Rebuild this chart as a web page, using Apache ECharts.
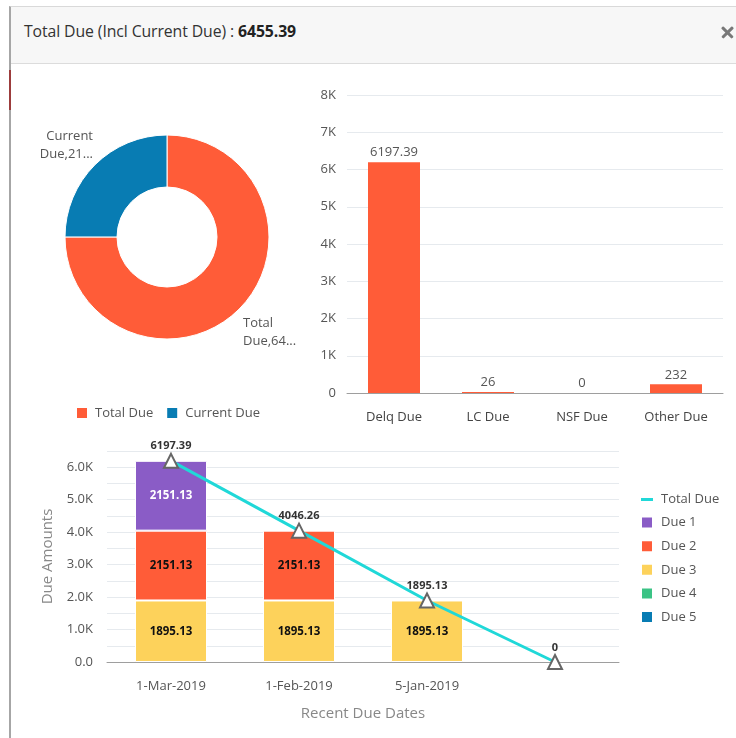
<!DOCTYPE html>
<html>
<head>
<meta charset="utf-8">
<script src="https://cdn.jsdelivr.net/npm/echarts@6/dist/echarts.min.js"></script>
<style>
  html, body { margin: 0; padding: 0; background: #fff; width: 736px; height: 738px; overflow: hidden; font-family: 'Open Sans', sans-serif; }
  #frame { position: absolute; left: 9px; top: 6px; width: 727px; height: 732px; border-left: 2px solid #a6a6a6; border-top: 1px solid #d9d9d9; box-sizing: border-box; }
  #header { position: absolute; left: 11px; top: 7px; width: 725px; height: 56px; background: #f7f7f7; border-bottom: 1px solid #dcdcdc; }
  #title { position: absolute; left: 13px; top: 13px; font-size: 15.8px; line-height: 22px; color: #333; white-space: nowrap; letter-spacing: -0.1px; }
  #title b { font-weight: 700; color: #222; }
  #close { position: absolute; left: 710px; top: 19px; width: 13px; height: 13px; }
  #close::before, #close::after { content: ''; position: absolute; left: -1px; top: 5px; width: 15px; height: 2.6px; background: #787878; border-radius: 1px; }
  #close::before { transform: rotate(45deg); }
  #close::after { transform: rotate(-45deg); }
  #accent { position: absolute; left: 9px; top: 70px; width: 2px; height: 40px; background: #9c3c3c; }
  #top { position: absolute; left: 0; top: 0; width: 736px; height: 430px; }
  #bottom { position: absolute; left: 0; top: 430px; width: 736px; height: 308px; }
</style>
</head>
<body>
<div id="frame"></div>
<div id="header">
  <div id="title">Total Due (Incl Current Due) : <b>6455.39</b></div>
  <div id="close"></div>
</div>
<div id="accent"></div>
<div id="top"></div>
<div id="bottom"></div>
<script>
// Donut: total vs current due
const pieNames = ['Total Due', 'Current Due'];
const pieValues = [6455.39, 2151.13];

// Breakdown of the total due by type
const dueTypes = ['Delq Due', 'LC Due', 'NSF Due', 'Other Due'];
const dueTypeValues = [6197.39, 26, 0, 232];

// Recent due dates, stacked by due bucket, plus running total
const dueDates = ['1-Mar-2019', '1-Feb-2019', '5-Jan-2019', ''];
const due1 = [2151.13, null, null, null];
const due2 = [2151.13, 2151.13, null, null];
const due3 = [1895.13, 1895.13, 1895.13, null];
const due4 = [null, null, null, null];
const due5 = [null, null, null, null];
const totalDue = [6197.39, 4046.26, 1895.13, 0];

const FONT = "'Open Sans', sans-serif";
const ORANGE = '#ff5c38';
const BLUE = '#087cb3';
const PURPLE = '#8a5cc6';
const YELLOW = '#fdd25b';
const GREEN = '#3bc385';
const CYAN = '#20d8d8';

const topChart = echarts.init(document.getElementById('top'));
topChart.setOption({
  animation: false,
  textStyle: { fontFamily: FONT },
  color: [ORANGE, BLUE],
  legend: {
    data: pieNames,
    left: 70,
    top: 401,
    icon: 'rect',
    itemWidth: 12,
    itemHeight: 12,
    itemGap: 12,
    textStyle: { color: '#555', fontSize: 13, padding: [0, 0, 0, 2] }
  },
  grid: { left: 347, right: 13, top: 95, bottom: 37 },
  xAxis: {
    type: 'category',
    data: dueTypes,
    axisTick: { show: false },
    axisLine: { lineStyle: { color: '#9e9e9e' } },
    axisLabel: { color: '#444', fontSize: 13, margin: 18 }
  },
  yAxis: {
    type: 'value',
    min: 0,
    max: 8000,
    interval: 1000,
    axisLine: { show: false },
    axisTick: { show: false },
    axisLabel: { color: '#555', fontSize: 13, margin: 11, formatter: v => v === 0 ? '0' : v / 1000 + 'K' },
    splitLine: { lineStyle: { color: '#e6eaee' } }
  },
  series: [
    {
      type: 'pie',
      name: 'Dues',
      center: [167, 237],
      radius: [50, 102],
      data: pieNames.map((n, i) => ({ name: n, value: pieValues[i] })),
      itemStyle: { borderColor: '#fff', borderWidth: 1 },
      labelLine: { show: false },
      label: {
        color: '#555',
        fontSize: 13,
        lineHeight: 18,
        overflow: 'none',
        formatter: p => p.name.replace(' ', '\n') + ',' + String(p.value).slice(0, 2) + '...'
      },
      labelLayout: p => p.dataIndex === 0
        ? { x: 243, y: 332, align: 'left', verticalAlign: 'middle' }
        : { x: 93, y: 145, align: 'right', verticalAlign: 'middle' }
    },
    {
      type: 'bar',
      name: 'Due Breakdown',
      data: dueTypeValues,
      barWidth: 52,
      itemStyle: { color: ORANGE },
      label: { show: true, position: 'top', color: '#555', fontSize: 13, distance: 3 }
    }
  ]
});

const innerLabel = (color) => ({ show: true, position: 'inside', color: color, fontSize: 11.5, fontWeight: 'bold' });
const barSeries = (name, data, color, labelColor) => ({
  type: 'bar',
  name: name,
  stack: 'due',
  data: data,
  barWidth: 72,
  itemStyle: { color: color, borderColor: '#fff', borderWidth: 1 },
  label: innerLabel(labelColor)
});

const bottomChart = echarts.init(document.getElementById('bottom'));
bottomChart.setOption({
  animation: false,
  textStyle: { fontFamily: FONT },
  legend: {
    orient: 'vertical',
    left: 635,
    top: 58,
    itemWidth: 12,
    itemHeight: 12,
    itemGap: 9.6,
    textStyle: { color: '#555', fontSize: 13, padding: [0, 0, 0, 3] },
    data: [
      { name: 'Total Due', icon: 'path://M0,0h12v3h-12z', itemStyle: { color: CYAN, borderWidth: 0 } },
      { name: 'Due 1', icon: 'rect' },
      { name: 'Due 2', icon: 'rect' },
      { name: 'Due 3', icon: 'rect' },
      { name: 'Due 4', icon: 'rect' },
      { name: 'Due 5', icon: 'rect' }
    ]
  },
  grid: { left: 107, right: 117, top: 21, bottom: 76 },
  xAxis: {
    type: 'category',
    data: dueDates,
    name: 'Recent Due Dates',
    nameLocation: 'middle',
    nameGap: 44,
    nameTextStyle: { color: '#888', fontSize: 15 },
    axisTick: { show: false },
    axisLine: { lineStyle: { color: '#9e9e9e' } },
    axisLabel: { color: '#555', fontSize: 13, margin: 18 }
  },
  yAxis: {
    type: 'value',
    min: 0,
    max: 6500,
    interval: 500,
    name: 'Due Amounts',
    nameLocation: 'middle',
    nameGap: 52,
    nameTextStyle: { color: '#888', fontSize: 15 },
    axisLine: { show: false },
    axisTick: { show: false },
    axisLabel: {
      color: '#555',
      fontSize: 13,
      margin: 14,
      formatter: v => v % 1000 !== 0 ? '' : (v === 0 ? '0.0' : (v / 1000).toFixed(1) + 'K')
    },
    splitLine: { lineStyle: { color: '#e6eaee' } }
  },
  series: [
    barSeries('Due 3', due3, YELLOW, '#111'),
    barSeries('Due 2', due2, ORANGE, '#111'),
    barSeries('Due 1', due1, PURPLE, '#fff'),
    barSeries('Due 4', due4, GREEN, '#111'),
    barSeries('Due 5', due5, BLUE, '#fff'),
    {
      type: 'line',
      name: 'Total Due',
      data: totalDue,
      z: 5,
      symbol: 'triangle',
      symbolSize: 14,
      showAllSymbol: true,
      lineStyle: { color: CYAN, width: 3 },
      itemStyle: { color: '#fff', borderColor: '#666', borderWidth: 2 },
      label: { show: true, position: 'top', color: '#333', fontSize: 11, fontWeight: 'bold', distance: 1 }
    }
  ]
});
</script>
</body>
</html>
